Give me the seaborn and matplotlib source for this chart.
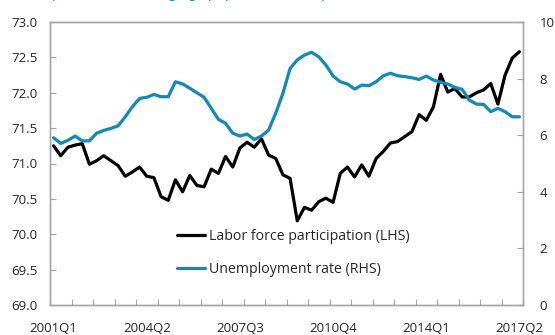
import matplotlib
matplotlib.use("Agg")
import matplotlib.pyplot as plt
import seaborn as sns
import numpy as np
import pandas as pd
from matplotlib.lines import Line2D

# Quarterly series, 2001Q1 to 2017Q2
quarters = [f"{y}Q{q}" for y in range(2001, 2018) for q in range(1, 5)][:66]

participation = [
    71.25, 71.11, 71.23, 71.26, 71.28, 70.99, 71.04, 71.11, 71.04, 70.97,
    70.82, 70.88, 70.95, 70.82, 70.80, 70.53, 70.48, 70.77, 70.60, 70.83,
    70.69, 70.67, 70.92, 70.86, 71.10, 70.95, 71.22, 71.30, 71.23, 71.35,
    71.12, 71.07, 70.84, 70.79, 70.19, 70.38, 70.34, 70.46, 70.51, 70.45,
    70.86, 70.95, 70.81, 70.98, 70.82, 71.07, 71.17, 71.29, 71.31, 71.38,
    71.45, 71.69, 71.61, 71.80, 72.26, 72.01, 72.06, 71.94, 71.94, 72.00,
    72.04, 72.13, 71.84, 72.25, 72.49, 72.58,
]

unemployment = [
    5.91, 5.71, 5.82, 5.97, 5.80, 5.80, 6.07, 6.17, 6.24, 6.33,
    6.65, 7.01, 7.30, 7.34, 7.44, 7.36, 7.36, 7.89, 7.81, 7.66,
    7.50, 7.34, 6.95, 6.56, 6.42, 6.07, 5.97, 6.04, 5.85, 5.97,
    6.18, 6.78, 7.48, 8.36, 8.66, 8.83, 8.93, 8.77, 8.48, 8.09,
    7.89, 7.81, 7.63, 7.77, 7.75, 7.89, 8.10, 8.19, 8.10, 8.07,
    8.03, 7.97, 8.09, 7.95, 7.87, 7.81, 7.69, 7.62, 7.24, 7.10,
    7.09, 6.83, 6.95, 6.83, 6.65, 6.65,
]

tick_labels = ["2001Q1", "2004Q2", "2007Q3", "2010Q4", "2014Q1", "2017Q2"]

df = pd.DataFrame({
    "pos": np.arange(len(quarters)),
    "quarter": quarters,
    "participation": participation,
    "unemployment": unemployment,
})

sns.set_theme(style="white")
plt.rcParams["font.family"] = ["Open Sans", "DejaVu Sans"]

BLUE = "#1289b8"
SPINE = "#a6a6a6"
TEXT = "#262626"

fig = plt.figure(figsize=(5.55, 3.35), dpi=100)
ax = fig.add_axes([50 / 555, 1 - 305 / 335, 473 / 555, 283 / 335])
ax2 = ax.twinx()

sns.lineplot(data=df, x="pos", y="participation", ax=ax, color="black",
             linewidth=2.3, legend=False)
sns.lineplot(data=df, x="pos", y="unemployment", ax=ax2, color=BLUE,
             linewidth=2.3, legend=False)

n = len(quarters)
ax.set_xlim(-0.5, n - 0.5)
ax.set_ylim(69.0, 73.0)
ax2.set_ylim(0, 10)

ax.set_yticks(np.arange(69.0, 73.01, 0.5))
ax.set_yticklabels([f"{v:.1f}" for v in np.arange(69.0, 73.01, 0.5)])
ax2.set_yticks(np.arange(0, 10.1, 2))
ax2.set_yticklabels([f"{v:d}" for v in range(0, 11, 2)])

ax.set_xticks([quarters.index(t) for t in tick_labels])
ax.set_xticklabels(tick_labels)
ax.set_xticks(np.arange(-0.5, n, 3), minor=True)

ax.set_xlabel("")
ax.set_ylabel("")
ax2.set_ylabel("")

for a in (ax, ax2):
    for s in a.spines.values():
        s.set_color(SPINE)
        s.set_linewidth(1.0)

ax.tick_params(axis="x", which="major", length=0, pad=12, labelsize=9.5,
               labelcolor=TEXT)
ax.tick_params(axis="x", which="minor", direction="in", length=4,
               width=0.8, color=SPINE, bottom=True)
ax.tick_params(axis="y", direction="in", length=4, width=0.8, color=SPINE,
               pad=9, labelsize=9.5, labelcolor=TEXT, left=True)
ax2.tick_params(axis="y", direction="in", length=4, width=0.8, color=SPINE,
                pad=12, labelsize=9.5, labelcolor=TEXT, right=True)

handles = [
    Line2D([], [], color="black", linewidth=2.3),
    Line2D([], [], color=BLUE, linewidth=2.3),
]
ax2.legend(handles,
           ["Labor force participation (LHS)", "Unemployment rate (RHS)"],
           loc="upper left", bbox_to_anchor=(177 / 555, 1 - 229 / 335),
           bbox_transform=fig.transFigure, frameon=False, fontsize=10.2,
           handlelength=2.0, handletextpad=0.25, labelspacing=1.25,
           borderaxespad=0, borderpad=0, labelcolor=TEXT)

# Subtitle line sits at the very top edge of the figure
fig.text(15 / 555, 1 + 3 / 335,
         "(LHS, percent of working-age population; RHS, percent of labor force)",
         color=BLUE, fontsize=10.2, ha="left", va="baseline")

fig.savefig("out.png", dpi=100)
